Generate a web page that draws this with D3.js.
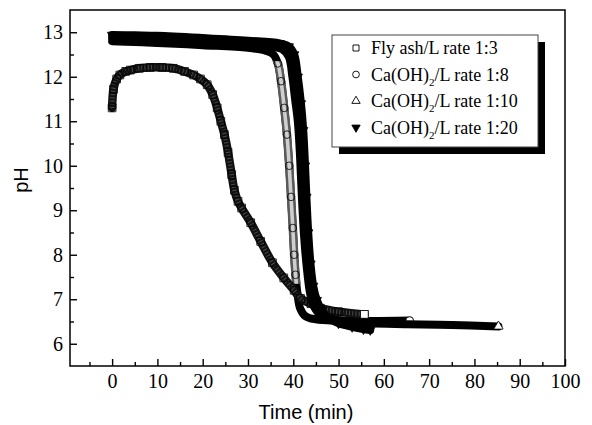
<!DOCTYPE html>
<html>
<head>
<meta charset="utf-8">
<script src="https://cdn.jsdelivr.net/npm/d3@7"></script>
<style>
  body { margin: 0; background: #fff; }
  svg { display: block; }
</style>
</head>
<body>
<svg id="chart" width="592" height="425"></svg>
<script>
// pH readings, [time (min), pH]
const flyAsh = [
  [0, 11.3], [0.3, 11.72], [1, 11.95], [1.7, 12.04], [3, 12.12], [4, 12.15], [6, 12.19],
  [8.4, 12.21], [11, 12.21], [13.5, 12.19], [16, 12.12], [18, 12.04], [19.5, 11.95],
  [21, 11.82], [22.2, 11.6], [23.2, 11.3], [24, 11.0], [24.8, 10.7], [25.6, 10.3],
  [26.4, 9.8], [27, 9.45], [27.8, 9.2], [28.6, 9.05], [30.6, 8.72], [32.8, 8.3],
  [35.4, 7.82], [37.9, 7.48], [40.2, 7.2], [41.6, 7.02], [43.9, 6.9], [46, 6.8],
  [50, 6.72], [55.7, 6.66]
];
const caOH8 = [
  [0, 12.8], [5, 12.78], [10, 12.76], [20, 12.71], [30, 12.65], [34, 12.58], [35.6, 12.5],
  [36.6, 12.3], [37.3, 11.9], [38.0, 11.3], [38.6, 10.7], [39.1, 10.0], [39.5, 9.3],
  [39.9, 8.6], [40.2, 8.0], [40.5, 7.55], [40.9, 7.15], [41.5, 6.8], [42.7, 6.62],
  [45, 6.55], [50, 6.52], [57, 6.51], [65.7, 6.52]
];
const caOH10 = [
  [0, 12.87], [5, 12.85], [10, 12.84], [20, 12.79], [30, 12.73], [35, 12.68], [37.5, 12.62],
  [39, 12.45], [39.8, 12.0], [40.4, 11.5], [41.0, 11.0], [41.5, 10.2], [41.9, 9.3],
  [42.4, 8.4], [43.0, 7.7], [43.6, 7.2], [44.3, 6.9], [45.5, 6.7], [48, 6.58], [52, 6.5],
  [57, 6.46], [65, 6.44], [75, 6.42], [85.3, 6.39]
];
const caOH20 = [
  [0, 12.94], [5, 12.93], [10, 12.92], [20, 12.87], [30, 12.81], [37, 12.75], [39, 12.68],
  [40.2, 12.5], [41, 12.0], [41.7, 11.4], [42.2, 10.8], [42.6, 10.0], [42.9, 9.3],
  [43.3, 8.5], [43.8, 7.8], [44.4, 7.3], [45.2, 6.98], [46.3, 6.75], [48, 6.56],
  [50, 6.46], [53, 6.38], [55.5, 6.33], [57, 6.31]
];

const legendLabels = ["Fly ash/L rate 1:3", "Ca(OH)2/L rate 1:8", "Ca(OH)2/L rate 1:10", "Ca(OH)2/L rate 1:20"];
const xMajorTicks = [0, 10, 20, 30, 40, 50, 60, 70, 80, 90, 100];
const xMinorTicks = [-5, 5, 15, 25, 35, 45, 55, 65, 75, 85, 95];
const yMajorTicks = [6, 7, 8, 9, 10, 11, 12, 13];
const yMinorTicks = [6.5, 7.5, 8.5, 9.5, 10.5, 11.5, 12.5];

const SERIF = '"Liberation Serif", "Times New Roman", serif';
const SANS = '"Liberation Sans", Arial, sans-serif';

const svg = d3.select('#chart');
const plot = { left: 70, right: 565, top: 10, bottom: 366 };

const x = d3.scaleLinear().domain([-9.3, 100]).range([plot.left, plot.right]);
const y = d3.scaleLinear().domain([5.5, 13.5]).range([plot.bottom, plot.top]);

const line = d3.line()
  .x(d => x(d[0]))
  .y(d => y(d[1]))
  .curve(d3.curveCatmullRom.alpha(0.5));

// the open circles only read as a hollow chain where the curve falls steeply
svg.append('clipPath').attr('id', 'steep')
  .append('rect')
  .attr('x', plot.left).attr('width', plot.right - plot.left)
  .attr('y', y(12.35)).attr('height', y(7.35) - y(12.35));

function band(g, data, color, width, dash) {
  return g.append('path')
    .attr('d', line(data))
    .attr('fill', 'none')
    .attr('stroke', color)
    .attr('stroke-width', width)
    .attr('stroke-dasharray', dash || null)
    .attr('stroke-linejoin', 'round')
    .attr('stroke-linecap', dash ? 'butt' : 'round');
}

function markers(g, data, symbol, fill, rotate) {
  g.selectAll(null)
    .data(data)
    .join('path')
    .attr('d', symbol)
    .attr('transform', d => `translate(${x(d[0])},${y(d[1])})${rotate ? ' rotate(180)' : ''}`)
    .attr('fill', fill)
    .attr('stroke', '#000')
    .attr('stroke-width', 0.8);
}

const circleSym = d3.symbol(d3.symbolCircle, 46);
const squareSym = d3.symbol(d3.symbolSquare, 60);
const triSym = d3.symbol(d3.symbolTriangle, 38);

// Ca(OH)2 1:8
const g8 = svg.append('g');
band(g8, caOH8, '#000', 8);
const g8s = g8.append('g').attr('clip-path', 'url(#steep)');
band(g8s, caOH8, '#5a5a5a', 8.5);
band(g8s, caOH8, '#cfcfcf', 3.6);
markers(g8s, caOH8, circleSym, 'none');
markers(g8, caOH8.slice(-1), circleSym, '#fff');

// fly ash
const gF = svg.append('g');
band(gF, flyAsh, '#111', 8.5);
band(gF, flyAsh, '#4a4a4a', 4.5, '1,2.2');
markers(gF, flyAsh, squareSym, 'none');
markers(gF, flyAsh.slice(-1), squareSym, '#fff');

// Ca(OH)2 1:10
const g10 = svg.append('g');
band(g10, caOH10, '#000', 8);
markers(g10, caOH10.slice(-1), triSym, '#fff');

// Ca(OH)2 1:20
const g20 = svg.append('g');
band(g20, caOH20, '#000', 8);
markers(g20, caOH20, triSym, '#000', true);

// axes, ticks pointing inward
function styleTicks(g) {
  g.attr('font-family', null).attr('font-size', null);
  g.selectAll('.domain').remove();
  g.selectAll('line').attr('stroke', '#000').attr('stroke-width', 1.4);
  g.selectAll('text')
    .attr('fill', '#000')
    .style('font-family', SERIF)
    .style('font-size', '20px');
}
svg.append('g')
  .attr('transform', `translate(0,${plot.bottom})`)
  .call(d3.axisBottom(x).tickValues(xMinorTicks).tickSize(-4).tickFormat(''))
  .call(styleTicks);
svg.append('g')
  .attr('transform', `translate(0,${plot.bottom})`)
  .call(d3.axisBottom(x).tickValues(xMajorTicks).tickSize(-7).tickPadding(8).tickFormat(d3.format('d')))
  .call(styleTicks);
svg.append('g')
  .attr('transform', `translate(${plot.left},0)`)
  .call(d3.axisLeft(y).tickValues(yMinorTicks).tickSize(-4).tickFormat(''))
  .call(styleTicks);
svg.append('g')
  .attr('transform', `translate(${plot.left},0)`)
  .call(d3.axisLeft(y).tickValues(yMajorTicks).tickSize(-7).tickPadding(7).tickFormat(d3.format('d')))
  .call(styleTicks);

svg.append('rect')
  .attr('x', plot.left).attr('y', plot.top)
  .attr('width', plot.right - plot.left).attr('height', plot.bottom - plot.top)
  .attr('fill', 'none').attr('stroke', '#000').attr('stroke-width', 1.5);

// axis titles
svg.append('text')
  .attr('x', 306).attr('y', 419)
  .attr('text-anchor', 'middle')
  .style('font-family', SANS)
  .style('font-size', '20px')
  .text('Time (min)');
svg.append('text')
  .attr('transform', 'translate(28,180) rotate(-90)')
  .attr('text-anchor', 'middle')
  .style('font-family', SANS)
  .style('font-size', '20px')
  .text('pH');

// legend
const lg = { x: 332, y: 35, w: 206, h: 112 };
svg.append('rect')
  .attr('x', lg.x + 7).attr('y', lg.y + 7).attr('width', lg.w).attr('height', lg.h)
  .attr('fill', '#000');
svg.append('rect')
  .attr('x', lg.x).attr('y', lg.y).attr('width', lg.w).attr('height', lg.h)
  .attr('fill', '#fff').attr('stroke', '#444').attr('stroke-width', 1);

const legendSymbols = [
  { sym: d3.symbol(d3.symbolSquare, 36), fill: 'none', rot: false },
  { sym: d3.symbol(d3.symbolCircle, 36), fill: 'none', rot: false },
  { sym: d3.symbol(d3.symbolTriangle, 30), fill: 'none', rot: false },
  { sym: d3.symbol(d3.symbolTriangle, 30), fill: '#000', rot: true }
];

legendLabels.forEach((label, i) => {
  const cy = 48 + i * 26.5;
  const s = legendSymbols[i];
  svg.append('path')
    .attr('d', s.sym)
    .attr('transform', `translate(356,${cy})${s.rot ? ' rotate(180)' : ''}`)
    .attr('fill', s.fill)
    .attr('stroke', '#000')
    .attr('stroke-width', 0.9);
  const t = svg.append('text')
    .attr('x', 371).attr('y', cy + 6)
    .style('font-family', SERIF)
    .style('font-size', '18px');
  if (label.startsWith('Ca(OH)2')) {
    t.append('tspan').text('Ca(OH)');
    t.append('tspan').attr('dy', 5).style('font-size', '11px').text('2');
    t.append('tspan').attr('dy', -5).text(label.slice(7));
  } else {
    t.text(label);
  }
});
</script>
</body>
</html>
